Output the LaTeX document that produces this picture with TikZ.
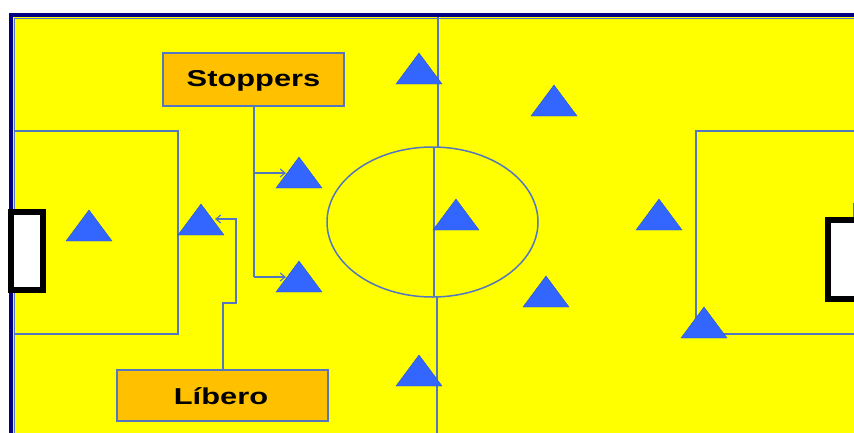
\documentclass[tikz,border=0pt]{standalone}
\usepackage{fontspec}
\setmainfont{Liberation Sans}
\usetikzlibrary{arrows.meta}
\definecolor{fieldyellow}{RGB}{255,255,0}
\definecolor{bordernavy}{RGB}{0,0,128}
\definecolor{lineblue}{RGB}{84,118,190}
\definecolor{labelorange}{RGB}{255,192,0}
\definecolor{playerblue}{RGB}{51,102,255}
\tikzset{
  fieldline/.style={draw=lineblue, line width=1.5pt},
  labelbox/.style={draw=lineblue, line width=1.3pt, fill=labelorange, inner sep=0pt},
  labeltext/.style={font=\bfseries\fontsize{23}{23}\selectfont, text=black, xscale=1.34, inner sep=0pt},
  player/.style={fill=playerblue, draw=playerblue!80!black, line width=0.4pt},
  pointer/.style={draw=lineblue, line width=1.1pt, -{Straight Barb[length=5pt,width=8pt]}},
  goalbox/.style={draw=black, line width=6pt, fill=white},
}
\newcommand{\playerat}[3]{%
  \coordinate (#1) at (#2,#3);
  \path[player] (#2-23,#3+31) -- (#2,#3) -- (#2+23,#3+31) -- cycle;
}
\begin{document}
\begin{tikzpicture}[x=1pt,y=-1pt]
\useasboundingbox (0,0) rectangle (854,432);
\clip (0,0) rectangle (854,432);
% field
\fill[fieldyellow] (13,17) rectangle (860,440);
\fill[bordernavy] (9,13) rectangle (860,17);
\fill[bordernavy] (9,13) rectangle (13,440);
\draw[fieldline, line width=0.8pt] (14,440) -- (14,18) -- (860,18);
% penalty areas
\draw[fieldline] (14,131) -- (178,131) -- (178,334) -- (14,334);
\draw[fieldline] (860,131) -- (696,131) -- (696,334) -- (860,334);
% halfway line and centre circle
\coordinate (ctop) at (437.8,17);
\coordinate (cbot) at (437.2,440);
\draw[fieldline] (ctop) -- (437.8,147);
\draw[fieldline] (434.2,147) -- (434.2,297);
\draw[fieldline] (437.2,297) -- (cbot);
\draw[fieldline] (432.5,222) ellipse [x radius=105.5, y radius=75];
% goals
\draw[goalbox] (11,212) rectangle (43,290);
\draw[goalbox] (828,220) rectangle (880,299);
\draw[fieldline, line width=1pt] (853.5,203) -- (853.5,217);
% players (apex coordinates)
\playerat{gk}{89}{210}
\playerat{lib}{201}{204}
\playerat{st1}{299}{157}
\playerat{st2}{299}{261}
\playerat{p1}{419}{53}
\playerat{p2}{554}{85}
\playerat{p3}{456}{199}
\playerat{p4}{546}{276}
\playerat{p5}{419}{355}
\playerat{p6}{659}{199}
\playerat{p7}{704}{307}
% labels
\node[labelbox, minimum width=181pt, minimum height=53pt] (stoppers) at (253.5,79.5) {};
\node[labeltext] at (253.5,81) {Stoppers};
\node[labelbox, minimum width=211pt, minimum height=51pt] (libero) at (222.5,395.5) {};
\node[labeltext] at (221,396) {Líbero};
% connectors
\coordinate (sjoin) at (254,173);
\coordinate (sbot) at (254,277);
\coordinate (st1arrow) at (286,173);
\coordinate (st2arrow) at (286,277);
\draw[fieldline, line width=1.1pt] (stoppers.south -| sjoin) -- (sbot);
\draw[pointer] (sjoin) -- (st1arrow);
\draw[pointer] (sbot) -- (st2arrow);
\coordinate (libarrow) at (215,219);
\draw[pointer] (libero.north -| 223,0) -- (223,303) -- (236,303) -- (236,219) -- (libarrow);
\end{tikzpicture}
\end{document}
